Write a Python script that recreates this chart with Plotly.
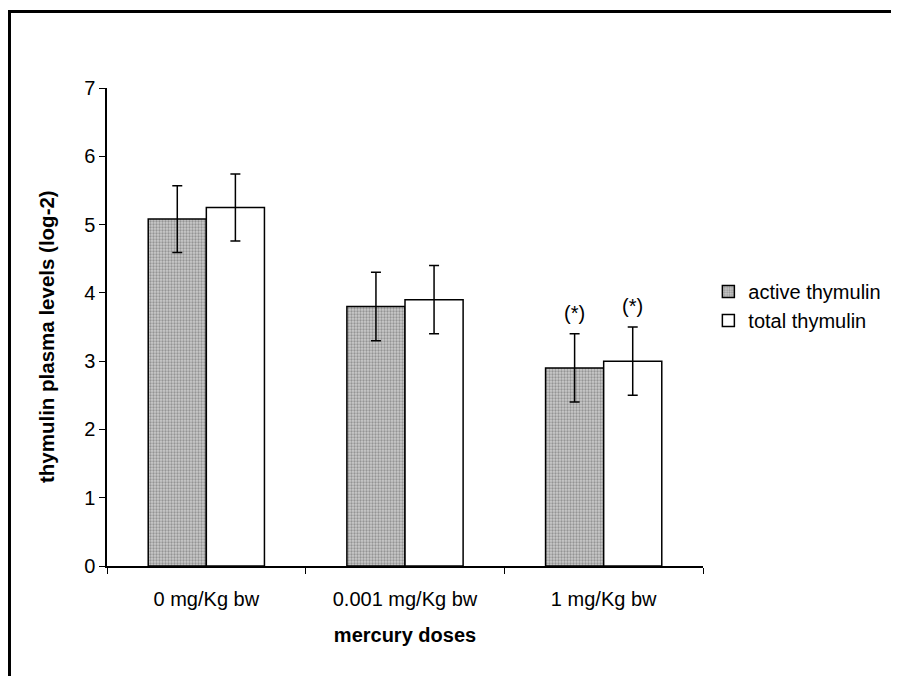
import plotly.graph_objects as go

categories = ["0 mg/Kg bw", "0.001 mg/Kg bw", "1 mg/Kg bw"]
active_values = [5.08, 3.80, 2.90]
active_errors = [0.49, 0.50, 0.50]
total_values = [5.25, 3.90, 3.00]
total_errors = [0.49, 0.50, 0.50]
active_marks = ["", "", "(*)"]
total_marks = ["", "", "(*)"]
y_ticks = [0, 1, 2, 3, 4, 5, 6, 7]

FONT = "Liberation Sans, Arial, sans-serif"
FS = 20

fig = go.Figure()
fig.add_trace(go.Bar(
    name="active thymulin", x=categories, y=active_values,
    marker=dict(color="#bdbdbd", line=dict(color="black", width=1.5),
                pattern=dict(shape=".", fgcolor="#5e5e5e", bgcolor="#cacaca",
                             size=3, solidity=0.45)),
    error_y=dict(type="data", array=active_errors, color="black", thickness=1.5, width=5),
))
fig.add_trace(go.Bar(
    name="total thymulin", x=categories, y=total_values,
    marker=dict(color="white", line=dict(color="black", width=1.5)),
    error_y=dict(type="data", array=total_errors, color="black", thickness=1.5, width=5),
))

for i, c in enumerate(categories):
    if active_marks[i]:
        fig.add_annotation(x=c, y=active_values[i] + active_errors[i], xref="x", yref="y",
                           text=active_marks[i], showarrow=False, xshift=-29,
                           yanchor="bottom", yshift=8, font=dict(size=FS, family=FONT, color="black"))
    if total_marks[i]:
        fig.add_annotation(x=c, y=total_values[i] + total_errors[i], xref="x", yref="y",
                           text=total_marks[i], showarrow=False, xshift=29,
                           yanchor="bottom", yshift=8, font=dict(size=FS, family=FONT, color="black"))

# y-axis title (as annotation for exact placement)
fig.add_annotation(text="<b>thymulin plasma levels (log-2)</b>", textangle=-90,
                   xref="paper", yref="paper", x=-0.1023, y=0.479,
                   xanchor="center", yanchor="middle", showarrow=False,
                   font=dict(size=20.5, family=FONT, color="black"))

# outer frame
fig.add_shape(type="rect", xref="paper", yref="paper",
              x0=-0.1636, x1=1.6, y0=-0.5, y1=1.160,
              line=dict(color="black", width=3), fillcolor="rgba(0,0,0,0)", layer="below")

fig.update_layout(
    width=891, height=668,
    margin=dict(l=99, r=196, t=80, b=110),
    paper_bgcolor="white", plot_bgcolor="white",
    barmode="group", bargap=0.415, bargroupgap=0,
    font=dict(family=FONT, size=FS, color="black"),
    showlegend=True,
    legend=dict(x=1.009, y=0.544, xanchor="left", yanchor="middle",
                font=dict(size=FS, family=FONT), bgcolor="rgba(0,0,0,0)",
                itemwidth=30),
    xaxis=dict(showline=True, linecolor="black", linewidth=1.5,
               ticks="outside", ticklen=6, tickcolor="black", tickwidth=1,
               tickson="boundaries", showgrid=False, ticklabelstandoff=14,
               tickfont=dict(size=FS, family=FONT),
               title=dict(text="<b>mercury doses</b>", font=dict(size=FS, family=FONT), standoff=19)),
    yaxis=dict(range=[0, 7], tickvals=y_ticks, showline=True, linecolor="black", linewidth=1.5,
               ticks="outside", ticklen=6, tickcolor="black", tickwidth=1,
               showgrid=False, zeroline=False,
               tickfont=dict(size=FS, family=FONT)),
)

fig.write_html("out.html")
